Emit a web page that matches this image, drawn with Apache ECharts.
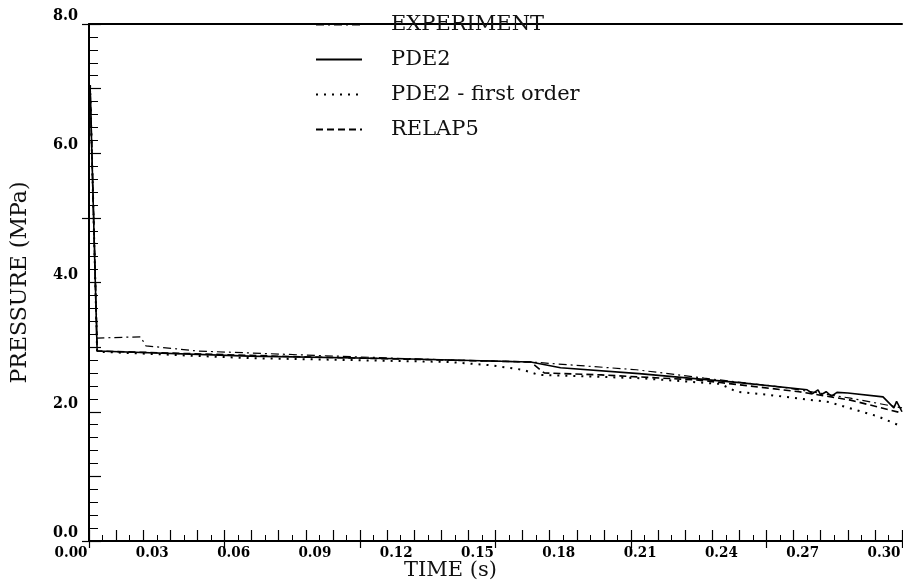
<!DOCTYPE html>
<html>
<head>
<meta charset="utf-8">
<script src="https://cdn.jsdelivr.net/npm/echarts@6/dist/echarts.min.js"></script>
<style>
  html, body { margin: 0; padding: 0; background: #fff; }
  #chart { width: 903px; height: 586px; }
</style>
</head>
<body>
<div id="chart"></div>
<script>
// values: [time (s), pressure (MPa)]
var experiment = [
  [0.0004, 7.05], [0.003, 3.14], [0.019, 3.16], [0.021, 3.02], [0.040, 2.94],
  [0.078, 2.88], [0.133, 2.80], [0.163, 2.77], [0.202, 2.65], [0.227, 2.52],
  [0.256, 2.38], [0.281, 2.21], [0.300, 2.06]
];
var pde2 = [
  [0.0004, 7.05], [0.003, 2.94], [0.059, 2.86], [0.115, 2.82], [0.163, 2.77],
  [0.174, 2.68], [0.203, 2.59], [0.240, 2.45], [0.265, 2.34], [0.267, 2.28],
  [0.269, 2.34], [0.270, 2.26], [0.272, 2.31], [0.274, 2.24], [0.276, 2.30],
  [0.280, 2.29], [0.293, 2.23], [0.297, 2.06], [0.298, 2.16], [0.300, 2.00]
];
var pde2First = [
  [0.0004, 7.05], [0.003, 2.93], [0.059, 2.83], [0.133, 2.77], [0.148, 2.72],
  [0.160, 2.65], [0.166, 2.57], [0.203, 2.52], [0.233, 2.43], [0.239, 2.31],
  [0.251, 2.26], [0.273, 2.15], [0.291, 1.93], [0.300, 1.77]
];
var relap5 = [
  [0.0004, 7.05], [0.003, 2.94], [0.078, 2.85], [0.163, 2.77], [0.168, 2.60],
  [0.189, 2.57], [0.225, 2.49], [0.262, 2.31], [0.281, 2.18], [0.300, 1.98]
];
var seriesNames = ["EXPERIMENT", "PDE2", "PDE2 - first order", "RELAP5"];

var serif = "'DejaVu Serif', 'Liberation Serif', serif";
var tickFont = "'DejaVu Serif Condensed', 'Liberation Serif', serif";

var myChart = echarts.init(document.getElementById("chart"));
var option = {
  animation: false,
  backgroundColor: "#fff",
  color: ["#000", "#000", "#000", "#000"],
  grid: { left: 89, right: 1, top: 24, bottom: 45, containLabel: false, outerBoundsMode: "none" },
  legend: {
    orient: "vertical",
    left: 310,
    top: 9,
    itemWidth: 46,
    itemHeight: 14,
    itemGap: 14,
    data: seriesNames,
    itemStyle: { opacity: 0 },
    textStyle: { fontFamily: serif, fontSize: 21, color: "#111", padding: [0, 0, 0, 24] },
  },
  xAxis: [
    {
      type: "value",
      min: 0,
      max: 0.3,
      interval: 0.01,
      name: "TIME (s)",
      nameLocation: "middle",
      nameGap: 19,
      nameMoveOverlap: false,
      nameTextStyle: {
        fontFamily: serif, fontSize: 21, color: "#111",
        verticalAlign: "top", padding: [0, 90, 0, 0],
      },
      axisLine: { onZero: false, lineStyle: { color: "#000", width: 2 } },
      axisTick: { inside: true, length: 11, lineStyle: { color: "#000", width: 1.2 } },
      minorTick: { show: true, splitNumber: 2, length: 6, lineStyle: { color: "#000", width: 1 } },
      splitLine: { show: false },
      axisLabel: {
        margin: 5,
        fontFamily: tickFont,
        fontWeight: "bold",
        fontSize: 15,
        color: "#000",
        padding: [0, 36, 0, 0],
        formatter: function (v) {
          return Math.round(v * 100) % 3 === 0 ? v.toFixed(2) : "";
        },
      },
    },
    {
      // long ticks that cross the axis
      type: "value",
      min: 0,
      max: 0.3,
      interval: 0.05,
      position: "bottom",
      offset: 0,
      axisLine: { show: false, onZero: false },
      axisTick: { inside: false, length: 7, lineStyle: { color: "#000", width: 1.2 } },
      axisLabel: { show: false },
      splitLine: { show: false },
    },
    {
      type: "value",
      min: 0,
      max: 0.3,
      position: "top",
      axisLine: { onZero: false, lineStyle: { color: "#000", width: 2 } },
      axisTick: { show: false },
      axisLabel: { show: false },
      splitLine: { show: false },
    },
  ],
  yAxis: [
    {
      type: "value",
      min: 0,
      max: 8,
      interval: 1,
      name: "PRESSURE (MPa)",
      nameLocation: "middle",
      nameGap: 58,
      nameMoveOverlap: false,
      nameTextStyle: { fontFamily: serif, fontSize: 22, color: "#111" },
      axisLine: { onZero: false, lineStyle: { color: "#000", width: 2 } },
      axisTick: { inside: true, length: 12, lineStyle: { color: "#000", width: 1.2 } },
      minorTick: { show: true, splitNumber: 5, length: 9, lineStyle: { color: "#000", width: 1 } },
      splitLine: { show: false },
      axisLabel: {
        margin: 11,
        fontFamily: tickFont,
        fontWeight: "bold",
        fontSize: 16,
        color: "#000",
        verticalAlign: "bottom",
        formatter: function (v) {
          return Math.round(v) % 2 === 0 ? v.toFixed(1) : "";
        },
      },
    },
    {
      type: "value",
      min: 0,
      max: 8,
      interval: 5,
      position: "left",
      offset: 0,
      axisLine: { show: false, onZero: false },
      axisTick: { inside: false, length: 7, lineStyle: { color: "#000", width: 1.2 } },
      axisLabel: { show: false },
      splitLine: { show: false },
    },
  ],
  series: [
    {
      name: seriesNames[0],
      type: "line",
      symbol: "none",
      data: experiment,
      lineStyle: { color: "#000", width: 1.2, type: [8, 4, 2, 4] },
    },
    {
      name: seriesNames[1],
      type: "line",
      symbol: "none",
      data: pde2,
      lineStyle: { color: "#000", width: 1.6, type: "solid" },
    },
    {
      name: seriesNames[2],
      type: "line",
      symbol: "none",
      data: pde2First,
      lineStyle: { color: "#000", width: 2, type: [2, 6] },
    },
    {
      name: seriesNames[3],
      type: "line",
      symbol: "none",
      data: relap5,
      lineStyle: { color: "#000", width: 1.6, type: [7, 4] },
    },
  ],
};
myChart.setOption(option);
</script>
</body>
</html>
